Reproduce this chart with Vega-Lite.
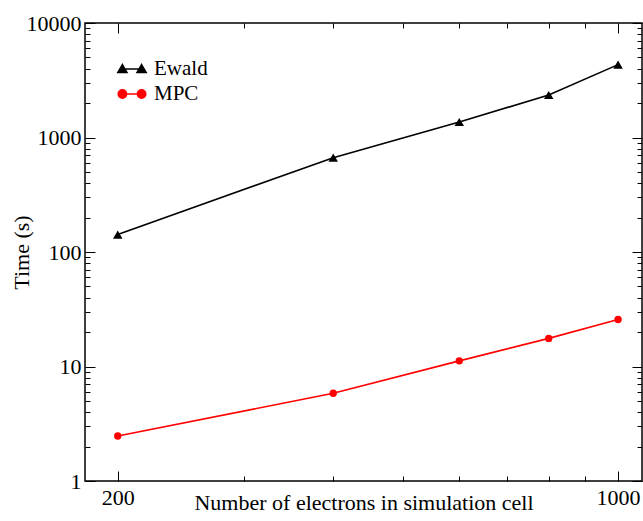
{
  "$schema": "https://vega.github.io/schema/vega-lite/v6.json",
  "width": 557,
  "height": 458,
  "autosize": {"type": "none"},
  "padding": {"left": 85, "top": 23, "right": 1, "bottom": 40},
  "background": "white",
  "config": {
    "view": {"stroke": "black", "strokeWidth": 1.5},
    "font": "Liberation Serif",
    "axis": {
      "domain": false,
      "grid": false,
      "tickColor": "black",
      "tickWidth": 1,
      "labelFont": "Liberation Serif",
      "labelFontSize": 22,
      "labelColor": "black",
      "labelFlush": false,
      "labelOverlap": false,
      "titleFont": "Liberation Serif",
      "titleFontSize": 22,
      "titleFontWeight": "normal",
      "titleColor": "black"
    }
  },
  "data": {
    "values": [
      {"method": "Ewald", "electrons": 200, "time": 142},
      {"method": "Ewald", "electrons": 400, "time": 667},
      {"method": "Ewald", "electrons": 600, "time": 1366},
      {"method": "Ewald", "electrons": 800, "time": 2350},
      {"method": "Ewald", "electrons": 1000, "time": 4330},
      {"method": "MPC", "electrons": 200, "time": 2.47},
      {"method": "MPC", "electrons": 400, "time": 5.83},
      {"method": "MPC", "electrons": 600, "time": 11.2},
      {"method": "MPC", "electrons": 800, "time": 17.6},
      {"method": "MPC", "electrons": 1000, "time": 25.7}
    ]
  },
  "layer": [
    {
      "mark": {"type": "line", "strokeWidth": 1.6},
      "encoding": {
        "x": {
          "field": "electrons", "type": "quantitative",
          "scale": {"type": "log", "domain": [180, 1080], "nice": false},
          "axis": {
            "orient": "bottom", "values": [200, 1000], "format": "d",
            "tickSize": -10, "labelPadding": 16,
            "title": "Number of electrons in simulation cell",
            "titleY": 28, "titleBaseline": "alphabetic"
          }
        },
        "y": {
          "field": "time", "type": "quantitative",
          "scale": {"type": "log", "domain": [1, 10000], "nice": false},
          "axis": {
            "orient": "left", "values": [1, 10, 100, 1000, 10000], "format": "d",
            "tickSize": -10, "labelPadding": 14,
            "title": "Time (s)", "titleX": -64, "titleBaseline": "middle", "titleAngle": -90
          }
        },
        "color": {
          "field": "method", "type": "nominal",
          "scale": {"domain": ["Ewald", "MPC"], "range": ["black", "red"]},
          "legend": {
            "orient": "none", "legendX": 36, "legendY": 35,
            "title": null, "padding": 0,
            "symbolSize": 400, "symbolStrokeWidth": 1.5,
            "labelFont": "Liberation Serif", "labelFontSize": 21, "labelColor": "black",
            "labelOffset": 11, "rowPadding": 4,
            "encode": {
              "symbols": {
                "update": {
                  "shape": {"signal": "datum.value === 'Ewald' ? 'M-0.96,-0.45L-0.5,0.35L-1.42,0.35ZM0.96,-0.45L1.42,0.35L0.5,0.35ZM-0.96,0L0.96,0' : 'M-1.38,0A0.42,0.42 0 1,0 -0.54,0A0.42,0.42 0 1,0 -1.38,0ZM0.54,0A0.42,0.42 0 1,0 1.38,0A0.42,0.42 0 1,0 0.54,0ZM-0.96,0L0.96,0'"}
                }
              }
            }
          }
        }
      }
    },
    {
      "transform": [{"filter": "datum.method === 'Ewald'"}],
      "mark": {"type": "point", "filled": true, "opacity": 1, "shape": "triangle-up", "size": 90},
      "encoding": {
        "x": {
          "field": "electrons", "type": "quantitative",
          "axis": {
            "orient": "bottom", "values": [300, 400, 500, 600, 700, 800, 900],
            "tickSize": -5, "labels": false, "title": null
          }
        },
        "y": {
          "field": "time", "type": "quantitative",
          "axis": {
            "orient": "left",
            "values": [2, 3, 4, 5, 6, 7, 8, 9, 20, 30, 40, 50, 60, 70, 80, 90, 200, 300, 400, 500, 600, 700, 800, 900, 2000, 3000, 4000, 5000, 6000, 7000, 8000, 9000],
            "tickSize": -5, "labels": false, "title": null
          }
        },
        "color": {"field": "method", "type": "nominal", "legend": null}
      }
    },
    {
      "transform": [{"filter": "datum.method === 'MPC'"}],
      "mark": {"type": "point", "filled": true, "opacity": 1, "shape": "circle", "size": 55},
      "encoding": {
        "x": {
          "field": "electrons", "type": "quantitative",
          "axis": {"orient": "top", "values": [200, 1000], "tickSize": -10, "labels": false, "title": null}
        },
        "y": {
          "field": "time", "type": "quantitative",
          "axis": {"orient": "right", "values": [1, 10, 100, 1000, 10000], "tickSize": -10, "labels": false, "title": null}
        },
        "color": {"field": "method", "type": "nominal", "legend": null}
      }
    },
    {
      "mark": {"type": "point", "opacity": 0},
      "encoding": {
        "x": {
          "field": "electrons", "type": "quantitative",
          "axis": {"orient": "top", "values": [300, 400, 500, 600, 700, 800, 900], "tickSize": -5, "labels": false, "title": null}
        },
        "y": {
          "field": "time", "type": "quantitative",
          "axis": {
            "orient": "right",
            "values": [2, 3, 4, 5, 6, 7, 8, 9, 20, 30, 40, 50, 60, 70, 80, 90, 200, 300, 400, 500, 600, 700, 800, 900, 2000, 3000, 4000, 5000, 6000, 7000, 8000, 9000],
            "tickSize": -5, "labels": false, "title": null
          }
        }
      }
    }
  ],
  "resolve": {"axis": {"x": "independent", "y": "independent"}}
}
